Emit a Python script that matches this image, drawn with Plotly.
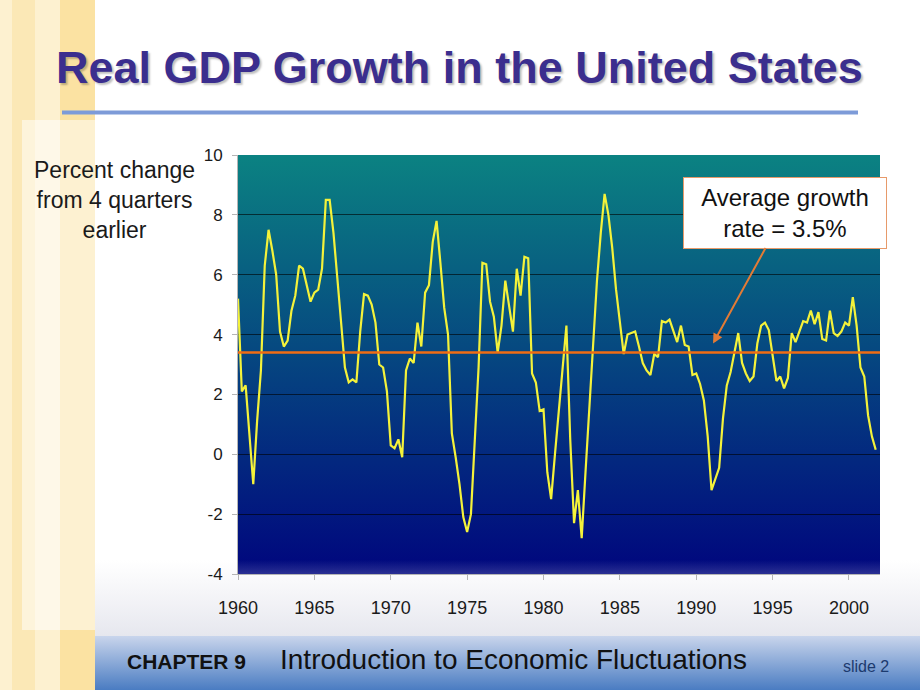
import base64
import plotly.graph_objects as go

# ---------------- data ----------------
YEARS = list(range(1960, 2002))
QUARTERS = ["Q1", "Q2", "Q3", "Q4"]
GROWTH = [
    5.2, 2.1, 2.3, 0.6,      # 1960
    -1.0, 1.1, 2.8, 6.3,     # 1961
    7.5, 6.8, 6.0, 4.1,      # 1962
    3.6, 3.8, 4.8, 5.3,      # 1963
    6.3, 6.2, 5.6, 5.1,      # 1964
    5.4, 5.5, 6.2, 8.5,      # 1965
    8.5, 7.4, 5.9, 4.4,      # 1966
    2.9, 2.4, 2.5, 2.4,      # 1967
    4.1, 5.35, 5.3, 5.0,     # 1968
    4.4, 3.0, 2.9, 2.1,      # 1969
    0.3, 0.2, 0.5, -0.1,     # 1970
    2.8, 3.2, 3.05, 4.4,     # 1971
    3.6, 5.4, 5.65, 7.1,     # 1972
    7.8, 6.4, 4.9, 4.0,      # 1973
    0.7, -0.1, -1.0, -2.1,   # 1974
    -2.6, -2.0, 0.3, 2.9,    # 1975
    6.4, 6.35, 5.1, 4.6,     # 1976
    3.4, 4.3, 5.8, 5.0,      # 1977
    4.1, 6.2, 5.3, 6.6,      # 1978
    6.55, 2.7, 2.4, 1.45,    # 1979
    1.5, -0.6, -1.5, 0.0,    # 1980
    1.4, 2.9, 4.3, 0.5,      # 1981
    -2.3, -1.2, -2.8, -0.6,  # 1982
    1.5, 3.4, 5.8, 7.4,      # 1983
    8.7, 8.0, 6.9, 5.5,      # 1984
    4.5, 3.35, 4.0, 4.05,    # 1985
    4.1, 3.6, 3.05, 2.8,     # 1986
    2.65, 3.35, 3.25, 4.45,  # 1987
    4.4, 4.5, 4.1, 3.75,     # 1988
    4.3, 3.65, 3.6, 2.65,    # 1989
    2.7, 2.35, 1.8, 0.6,     # 1990
    -1.2, -0.85, -0.45, 1.2, # 1991
    2.3, 2.75, 3.4, 4.05,    # 1992
    3.05, 2.7, 2.45, 2.6,    # 1993
    3.7, 4.3, 4.4, 4.15,     # 1994
    3.3, 2.45, 2.6, 2.2,     # 1995
    2.55, 4.05, 3.75, 4.1,   # 1996
    4.45, 4.4, 4.8, 4.35,    # 1997
    4.75, 3.85, 3.8, 4.8,    # 1998
    4.05, 3.95, 4.1, 4.4,    # 1999
    4.3, 5.25, 4.3, 2.9,     # 2000
    2.6, 1.3, 0.6, 0.15,     # 2001
]
AVERAGE_LINE = 3.4
AVERAGE_LABEL = "Average growth<br>rate = 3.5%"
X_TICKS = [1960, 1965, 1970, 1975, 1980, 1985, 1990, 1995, 2000]
Y_TICKS = [-4, -2, 0, 2, 4, 6, 8, 10]
ARROW_TIP_YEAR = 1991.1
ARROW_TIP_VALUE = 3.7

TITLE = "Real GDP Growth in the United States"
Y_LABEL = "Percent change<br>from 4 quarters<br>earlier"
FOOT_CHAPTER = "CHAPTER 9"
FOOT_TITLE = "Introduction to Economic Fluctuations"
FOOT_SLIDE = "slide 2"

x_vals = [y + i * 0.25 for y in YEARS for i in range(len(QUARTERS))]

# ---------------- layout helpers ----------------
W, H = 920, 690
L, R, T, B = 238, 880, 155, 574
PW, PH = R - L, B - T


def px(x):
    return (x - L) / PW


def py(y):
    return (B - y) / PH


def svg_uri(svg):
    return "data:image/svg+xml;base64," + base64.b64encode(svg.encode()).decode()


def vgrad(c1, c2, o1=1, o2=1):
    return svg_uri(
        '<svg xmlns="http://www.w3.org/2000/svg" width="100" height="100" '
        'viewBox="0 0 100 100" preserveAspectRatio="none"><defs>'
        '<linearGradient id="g" x1="0" y1="0" x2="0" y2="1">'
        f'<stop offset="0" stop-color="{c1}" stop-opacity="{o1}"/>'
        f'<stop offset="1" stop-color="{c2}" stop-opacity="{o2}"/>'
        '</linearGradient></defs><rect width="100" height="100" fill="url(#g)"/></svg>'
    )


FONT = "Liberation Sans, Arial, Helvetica, sans-serif"

fig = go.Figure()
fig.add_trace(go.Scatter(
    x=x_vals, y=GROWTH, mode="lines",
    line=dict(color="#f4f23a", width=2.2),
    hoverinfo="skip", showlegend=False,
))

shapes = []
# left decorative stripes
stripes = [
    (0, 95, 0, 690, "#fdf1d0", 1),
    (12, 35, 0, 690, "#fbe8b6", 1),
    (60, 95, 0, 690, "#fbe2a2", 1),
    (22, 95, 120, 630, "#ffffff", 0.5),
]
for x0, x1, y0, y1, c, op in stripes:
    shapes.append(dict(type="rect", xref="paper", yref="paper",
                       x0=px(x0), x1=px(x1), y0=py(y1), y1=py(y0),
                       fillcolor=c, opacity=op, line=dict(width=0), layer="below"))
# title underline
shapes.append(dict(type="line", xref="paper", yref="paper",
                   x0=px(62), x1=px(858), y0=py(112.5), y1=py(112.5),
                   line=dict(color="#7d9bd8", width=4), layer="above"))
# average line
shapes.append(dict(type="line", xref="paper", yref="y",
                   x0=0, x1=1, y0=AVERAGE_LINE, y1=AVERAGE_LINE,
                   line=dict(color="#f06c14", width=2.5), layer="above"))

images = [
    dict(source=vgrad("#0b8282", "#00067e"), xref="paper", yref="paper",
         x=0, y=1, sizex=1, sizey=1, xanchor="left", yanchor="top",
         sizing="stretch", layer="below"),
    dict(source=vgrad("#e9e9f0", "#e6e7ee", 0, 1), xref="paper", yref="paper",
         x=px(95), y=py(560), sizex=(W - 95) / PW, sizey=76 / PH,
         xanchor="left", yanchor="top", sizing="stretch", layer="below"),
    dict(source=vgrad("#c9d5ec", "#4a7cc2"), xref="paper", yref="paper",
         x=px(95), y=py(636), sizex=(W - 95) / PW, sizey=54 / PH,
         xanchor="left", yanchor="top", sizing="stretch", layer="below"),
]


def label(text, x, y, size, color="#111111", **kw):
    return dict(text=text, xref="paper", yref="paper", x=px(x), y=py(y),
                xanchor="center", yanchor="middle", showarrow=False,
                font=dict(family=FONT, size=size, color=color, **kw))


annotations = [
    label(f"<b>{TITLE}</b>", 459, 67, 45, "#3b2e8e",
          shadow="2px 2px 2px rgba(0,0,0,0.25)"),
    label(Y_LABEL, 114, 200, 23, "#1a1a1a"),
    label(f"<b>{FOOT_CHAPTER}</b>", 186, 661, 21),
    label(FOOT_TITLE, 513, 659, 28),
    label(FOOT_SLIDE, 866, 666, 16, "#1c3a6e"),
    dict(text=AVERAGE_LABEL, x=ARROW_TIP_YEAR, y=ARROW_TIP_VALUE, xref="x", yref="y",
         ax=72, ay=-131, showarrow=True, arrowhead=2, arrowsize=1,
         arrowwidth=2, arrowcolor="#e37b35",
         bgcolor="#ffffff", bordercolor="#e79a6a", borderwidth=1,
         width=200, height=68,
         font=dict(family=FONT, size=24, color="#111111")),
]

fig.update_layout(
    width=W, height=H,
    margin=dict(l=L, r=W - R, t=T, b=H - B, pad=0),
    paper_bgcolor="#ffffff",
    plot_bgcolor="rgba(0,0,0,0)",
    shapes=shapes, images=images, annotations=annotations,
    showlegend=False,
    xaxis=dict(range=[1960, 2002.03], tickvals=X_TICKS, ticktext=[str(t) for t in X_TICKS],
               showgrid=False, zeroline=False, showline=True, linecolor="#b5b5b5",
               ticks="outside", ticklen=5, tickcolor="#b5b5b5", ticklabelstandoff=12,
               tickfont=dict(family=FONT, size=18, color="#1a1a1a")),
    yaxis=dict(range=[-4, 10], tickvals=Y_TICKS, ticktext=[str(t) for t in Y_TICKS],
               showgrid=True, gridcolor="rgba(0,0,0,0.6)", gridwidth=1,
               zeroline=False, showline=True, linecolor="#b5b5b5",
               ticks="outside", ticklen=5, tickcolor="#b5b5b5", ticklabelstandoff=6,
               tickfont=dict(family=FONT, size=17, color="#1a1a1a")),
)

fig.write_html("out.html", config={"displayModeBar": False},
               post_script="document.body.style.margin='0';")
